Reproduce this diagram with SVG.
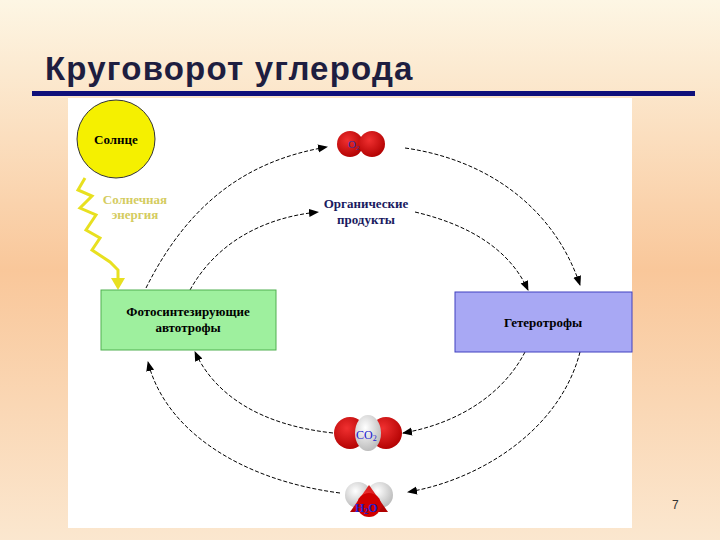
<svg xmlns="http://www.w3.org/2000/svg" width="720" height="540" viewBox="0 0 720 540">
<defs>
<linearGradient id="bg" x1="0" y1="0" x2="0" y2="1">
<stop offset="0" stop-color="#fdf6e4"/><stop offset="0.5" stop-color="#f9c79a"/><stop offset="1" stop-color="#fbe7cf"/>
</linearGradient>
<radialGradient id="red" cx="0.4" cy="0.35" r="0.7"><stop offset="0" stop-color="#f03030"/><stop offset="1" stop-color="#b00000"/></radialGradient>
<radialGradient id="wh" cx="0.4" cy="0.35" r="0.7"><stop offset="0" stop-color="#ffffff"/><stop offset="1" stop-color="#b8b8b8"/></radialGradient>
<marker id="ah" viewBox="0 0 10 10" refX="9" refY="5" markerWidth="10" markerHeight="10" markerUnits="userSpaceOnUse" orient="auto"><path d="M0,1 L10,5 L0,9 Z" fill="#000"/></marker>
<style>
.c{fill:none;stroke:#000;stroke-width:1;stroke-dasharray:4,2;marker-end:url(#ah)}
.t{font-family:"Liberation Serif",serif;font-weight:bold;font-size:13px}
</style>
</defs>
<rect width="720" height="540" fill="url(#bg)"/>
<text x="45" y="80" font-family="Liberation Sans,sans-serif" font-size="33" font-weight="bold" letter-spacing="1.2" fill="#1e1e40">Круговорот углерода</text>
<rect x="32" y="91" width="663" height="5" fill="#10107a"/>
<rect x="68" y="98" width="564" height="430" fill="#fff"/>
<g id="connectors">
<path class="c" d="M146,288 C190,200 250,160 327,147"/>
<path class="c" d="M405,148 C490,160 555,210 580,285"/>
<path class="c" d="M580,352 C560,430 480,480 408,492"/>
<path class="c" d="M340,493 C240,480 165,430 148,362"/>
<path class="c" d="M190,290 C215,245 260,218 318,212"/>
<path class="c" d="M415,212 C470,225 510,250 528,290"/>
<path class="c" d="M525,352 C500,400 450,425 403,433"/>
<path class="c" d="M333,433 C260,425 215,395 195,352"/>
<path d="M85,178 L78,190 L92,196 L80,208 L96,215 L86,230 L100,238 L92,250 L110,262 L118,270 L118,282" fill="none" stroke="#e8e020" stroke-width="3"/>
<path d="M111,278 L125,278 L118,290 Z" fill="#e8e020"/>
</g>
<g id="sun"><circle cx="116" cy="139" r="39" fill="#f5f000" stroke="#333" stroke-width="1"/>
<text class="t" x="116" y="144" text-anchor="middle">Солнце</text></g>
<g id="energy"><text class="t" x="135" y="204" text-anchor="middle" fill="#d4cc60" font-weight="normal">Солнечная</text>
<text class="t" x="135" y="219" text-anchor="middle" fill="#d4cc60" font-weight="normal">энергия</text></g>
<g id="o2"><circle cx="350" cy="144" r="13" fill="url(#red)"/><circle cx="372" cy="144" r="13" fill="url(#red)"/>
<text x="348" y="148" font-family="Liberation Serif,serif" font-size="11" fill="#3030a0">O<tspan font-size="7" dy="2">2</tspan></text></g>
<g id="org"><text class="t" x="366" y="208" text-anchor="middle" fill="#1a1a60">Органические</text>
<text class="t" x="366" y="224" text-anchor="middle" fill="#1a1a60">продукты</text></g>
<g id="auto"><rect x="101" y="290" width="175" height="60" fill="#9ef09e" stroke="#50b050"/>
<text class="t" x="188" y="316" text-anchor="middle">Фотосинтезирующие</text>
<text class="t" x="188" y="332" text-anchor="middle">автотрофы</text></g>
<g id="hetero"><rect x="455" y="292" width="177" height="60" fill="#a8a8f4" stroke="#4040c0"/>
<text class="t" x="543" y="327" text-anchor="middle">Гетеротрофы</text></g>
<g id="co2"><circle cx="350" cy="433" r="16" fill="url(#red)"/><circle cx="386" cy="433" r="16" fill="url(#red)"/>
<ellipse cx="368" cy="433" rx="13" ry="18" fill="url(#wh)"/>
<text x="356" y="439" font-family="Liberation Serif,serif" font-size="12" fill="#2020d0">CO<tspan font-size="8" dy="2">2</tspan></text></g>
<g id="h2o"><circle cx="358" cy="495" r="13" fill="url(#wh)"/><circle cx="380" cy="495" r="13" fill="url(#wh)"/>
<path d="M369,485 L388,512 L350,512 Z" fill="url(#red)"/><circle cx="369" cy="505" r="12" fill="#d00000"/>
<text x="355" y="512" font-family="Liberation Serif,serif" font-size="12" font-weight="bold" fill="#2020d0">H<tspan font-size="8" dy="2">2</tspan><tspan dy="-2">O</tspan></text></g>
<text x="672" y="509" font-family="Liberation Sans,sans-serif" font-size="12" fill="#333">7</text>
</svg>
